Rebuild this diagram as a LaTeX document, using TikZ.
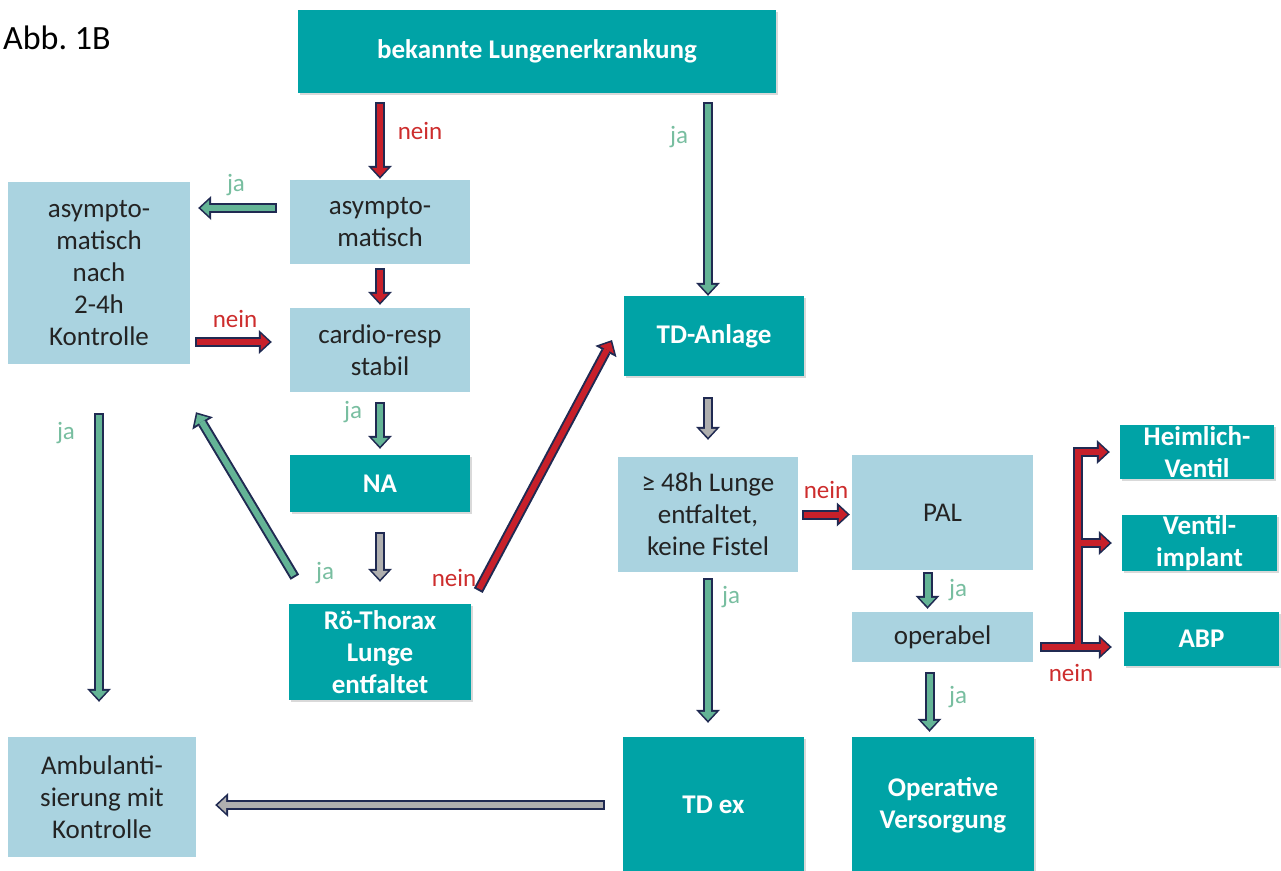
\documentclass[tikz,border=0pt]{standalone}
\usepackage{fontspec}
\setmainfont{Carlito}
\usetikzlibrary{arrows.meta,shadows}
\frenchspacing

\definecolor{tuerkis}{RGB}{0,163,166}
\definecolor{hellblau}{RGB}{170,211,224}
\definecolor{randblau}{RGB}{32,42,82}
\definecolor{pfrot}{RGB}{200,32,42}
\definecolor{pfgruen}{RGB}{100,180,150}
\definecolor{pfgrau}{RGB}{175,175,175}
\definecolor{jagruen}{RGB}{120,190,160}
\definecolor{neinrot}{RGB}{205,45,45}
\definecolor{schrift}{RGB}{35,35,35}

\tikzset{
  dunkel/.style={fill=tuerkis, text=white, align=center, inner sep=0pt, font=\bfseries\fontsize{27}{32}\selectfont, drop shadow={shadow xshift=2pt, shadow yshift=-2pt, opacity=0.3}},
  hell/.style={fill=hellblau, text=schrift, align=center, inner sep=0pt, font=\fontsize{27}{32}\selectfont},
  ja/.style={text=jagruen, font=\fontsize{25}{28}\selectfont, inner sep=0pt},
  nein/.style={text=neinrot, font=\fontsize{25}{28}\selectfont, inner sep=0pt},
  rand/.style={draw=randblau, line width=10pt, -{Triangle[width=24pt,length=13pt,line width=0pt]}},
  kern/.style={draw=#1, line width=6pt, -{Triangle[width=16pt,length=8.5pt,line width=0pt]}},
  pfeil/.style n args={3}{preaction={rand, shorten <=#2, shorten >=#3}, kern=#1, shorten <=#2+2, shorten >=#3+2.5},
}

\begin{document}
\begin{tikzpicture}[x=1pt,y=-1pt]
	\useasboundingbox (0,0) rectangle (1281,870);
	
	% Kaesten
	\node[dunkel, minimum width=478, minimum height=83] (lungen) at (537,51.5) {bekannte Lungenerkrankung};
	\node[hell, minimum width=180, minimum height=84] (asym) at (380,222) {asympto-\\matisch};
	\node[hell, minimum width=182, minimum height=182] (kontrolle) at (99,273) {asympto-\\matisch\\nach\\2-4h\\Kontrolle};
	\node[hell, minimum width=180, minimum height=84] (cardio) at (380,350) {cardio-resp\\stabil};
	\node[dunkel, minimum width=180, minimum height=57] (na) at (380,483.5) {NA};
	\node[dunkel, minimum width=182, minimum height=96] (roe) at (380,652) {Rö-Thorax\\Lunge\\entfaltet};
	\node[dunkel, minimum width=180, minimum height=80] (tdanlage) at (714,336) {TD-Anlage};
	\node[hell, minimum width=180, minimum height=115] (lunge48) at (708,514.5) {≥ 48h Lunge\\entfaltet,\\keine Fistel};
	\node[hell, minimum width=181, minimum height=115] (pal) at (942.5,512.5) {PAL};
	\node[hell, minimum width=181, minimum height=50] (operabel) at (942.5,637) {operabel};
	\node[dunkel, minimum width=154, minimum height=54] (heimlich) at (1197,452) {Heimlich-\\Ventil};
	\node[dunkel, minimum width=155, minimum height=54] (ventil) at (1199.5,543) {Ventil-\\implant};
	\node[dunkel, minimum width=155, minimum height=54] (abp) at (1201.5,639) {ABP};
	\node[dunkel, minimum width=181, minimum height=136] (tdex) at (713.5,805) {TD ex};
	\node[dunkel, minimum width=182, minimum height=136] (operativ) at (943,805) {Operative\\Versorgung};
	\node[hell, minimum width=188, minimum height=120] (ambulant) at (102,797) {Ambulanti-\\sierung mit\\Kontrolle};
	
	\node[anchor=base west, inner sep=0pt, text=black, font=\fontsize{34}{40}\selectfont] (titel) at (3,49) {Abb. 1B};
	
	% Pfeile
	\draw[pfeil={pfrot}{9}{1}] (lungen.south -| asym) -- (asym.north);
	\draw[pfeil={pfgruen}{9}{0}] (lungen.south -| lunge48) -- (tdanlage.north -| lunge48);
	\coordinate (jalinks) at ([yshift=14pt]asym.west);
	\draw[pfeil={pfgruen}{13}{8}] (jalinks) -- (jalinks -| kontrolle.east);
	\draw[pfeil={pfrot}{4}{3}] (asym.south) -- (cardio.north);
	\coordinate (neinrechts) at ([yshift=8pt]cardio.west);
	\draw[pfeil={pfrot}{5}{18}] (neinrechts -| kontrolle.east) -- (neinrechts);
	\draw[pfeil={pfgruen}{10}{6}] (cardio.south) -- (na.north);
	\draw[pfeil={pfgrau}{20}{22}] (na.south) -- (roe.north);
	\draw[pfeil={pfgruen}{31}{56}] ([xshift=22pt]roe.north west) -- ([xshift=-23pt]kontrolle.south east);
	\draw[pfeil={pfrot}{15}{25}] (roe.north east) -- ([yshift=18pt]tdanlage.west);
	\draw[pfeil={pfgruen}{49}{35}] (kontrolle.south) -- (kontrolle.south |- ambulant.north);
	\draw[pfeil={pfgrau}{21}{17}] (tdanlage.south -| lunge48) -- (lunge48.north);
	\draw[pfeil={pfrot}{4}{2}] (lunge48.east) -- (lunge48.east -| pal.west);
	\draw[pfeil={pfgruen}{6}{14}] (lunge48.south) -- (lunge48.south |- tdex.north);
	\coordinate (japal) at ([xshift=-15pt]pal.south);
	\draw[pfeil={pfgruen}{2}{3}] (japal) -- (japal |- operabel.north);
	\coordinate (jaop) at ([xshift=-13pt]operabel.south);
	\draw[pfeil={pfgruen}{10}{5}] (jaop) -- (jaop |- operativ.north);
	\draw[pfeil={pfgrau}{18}{19}] (tdex.west) -- (tdex.west -| ambulant.east);
	
	% Verzweigung nein
	\coordinate (ast) at (1078,647);
	\draw[rand, shorten >=10pt] (ast) -- (ast |- heimlich.west) -- (heimlich.west);
	\draw[rand, shorten >=10pt] (ast |- ventil.west) -- (ventil.west);
	\draw[rand, shorten <=7pt, shorten >=12pt] (ast -| operabel.east) -- (ast -| abp.west);
	\draw[kern=pfrot, shorten >=12.5pt] (ast) -- (ast |- heimlich.west) -- (heimlich.west);
	\draw[kern=pfrot, shorten >=12.5pt] (ast |- ventil.west) -- (ventil.west);
	\draw[kern=pfrot, shorten <=9pt, shorten >=14.5pt] (ast -| operabel.east) -- (ast -| abp.west);
	
	% Beschriftungen
	\node[nein] (n1) at (420,131) {nein};
	\node[ja] (j1) at (679,137) {ja};
	\node[ja] (j2) at (236,185) {ja};
	\node[nein] (n2) at (235,319) {nein};
	\node[ja] (j3) at (353,412) {ja};
	\node[ja] (j4) at (325,573) {ja};
	\node[nein] (n3) at (454,578) {nein};
	\node[ja] (j5) at (66,433) {ja};
	\node[nein] (n4) at (826,490) {nein};
	\node[ja] (j6) at (731,597) {ja};
	\node[ja] (j7) at (958,590) {ja};
	\node[ja] (j8) at (958,697) {ja};
	\node[nein] (n5) at (1071,673) {nein};
\end{tikzpicture}
\end{document}
